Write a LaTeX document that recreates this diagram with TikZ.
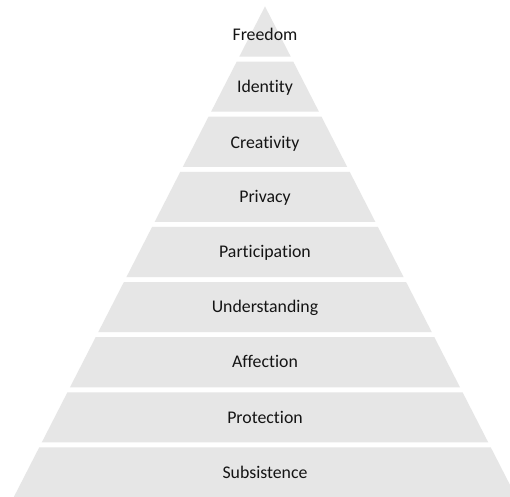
\documentclass[tikz,border=0pt]{standalone}
\usepackage{fontspec}
\setmainfont{Carlito}[Ligatures={NoCommon,NoContextual}]
\definecolor{layerfill}{RGB}{230,230,230}
\definecolor{labeltext}{RGB}{20,20,20}
\begin{document}
\begin{tikzpicture}[x=1pt,y=-1pt,
  layer/.style={fill=layerfill,draw=none},
  lvltext/.style={anchor=base,inner sep=0pt,text=labeltext,font=\fontsize{17.8}{20}\selectfont}]
\clip (0,0) rectangle (510,496);
\fill[white] (0,0) rectangle (510,496);
% layers: slices of one triangle, apex (265,6.4), gaps of 5
\foreach \k in {1,...,9} {
  \pgfmathsetmacro\ya{3.86+55.14*(\k-1)+2.5}
  \pgfmathsetmacro\yb{3.86+55.14*\k-2.5}
  \pgfmathsetmacro\wa{0.512*(\ya-6.4)}
  \pgfmathsetmacro\wb{0.512*(\yb-6.4)}
  \fill[layer] (265-\wa,\ya) -- (265+\wa,\ya) -- (265+\wb,\yb) -- (265-\wb,\yb) -- cycle;
}
\node[lvltext] (l1) at (265,40.7) {Freedom};
\node[lvltext] (l2) at (265,92.2) {Identity};
\node[lvltext] (l3) at (265,148.0) {Creativity};
\node[lvltext] (l4) at (265,202.5) {Privacy};
\node[lvltext] (l5) at (265,257.6) {Participation};
\node[lvltext] (l6) at (265,312.7) {Understanding};
\node[lvltext] (l7) at (265,367.9) {Affection};
\node[lvltext] (l8) at (265,423.0) {Protection};
\node[lvltext] (l9) at (265,478.2) {Subsistence};
\end{tikzpicture}
\end{document}
